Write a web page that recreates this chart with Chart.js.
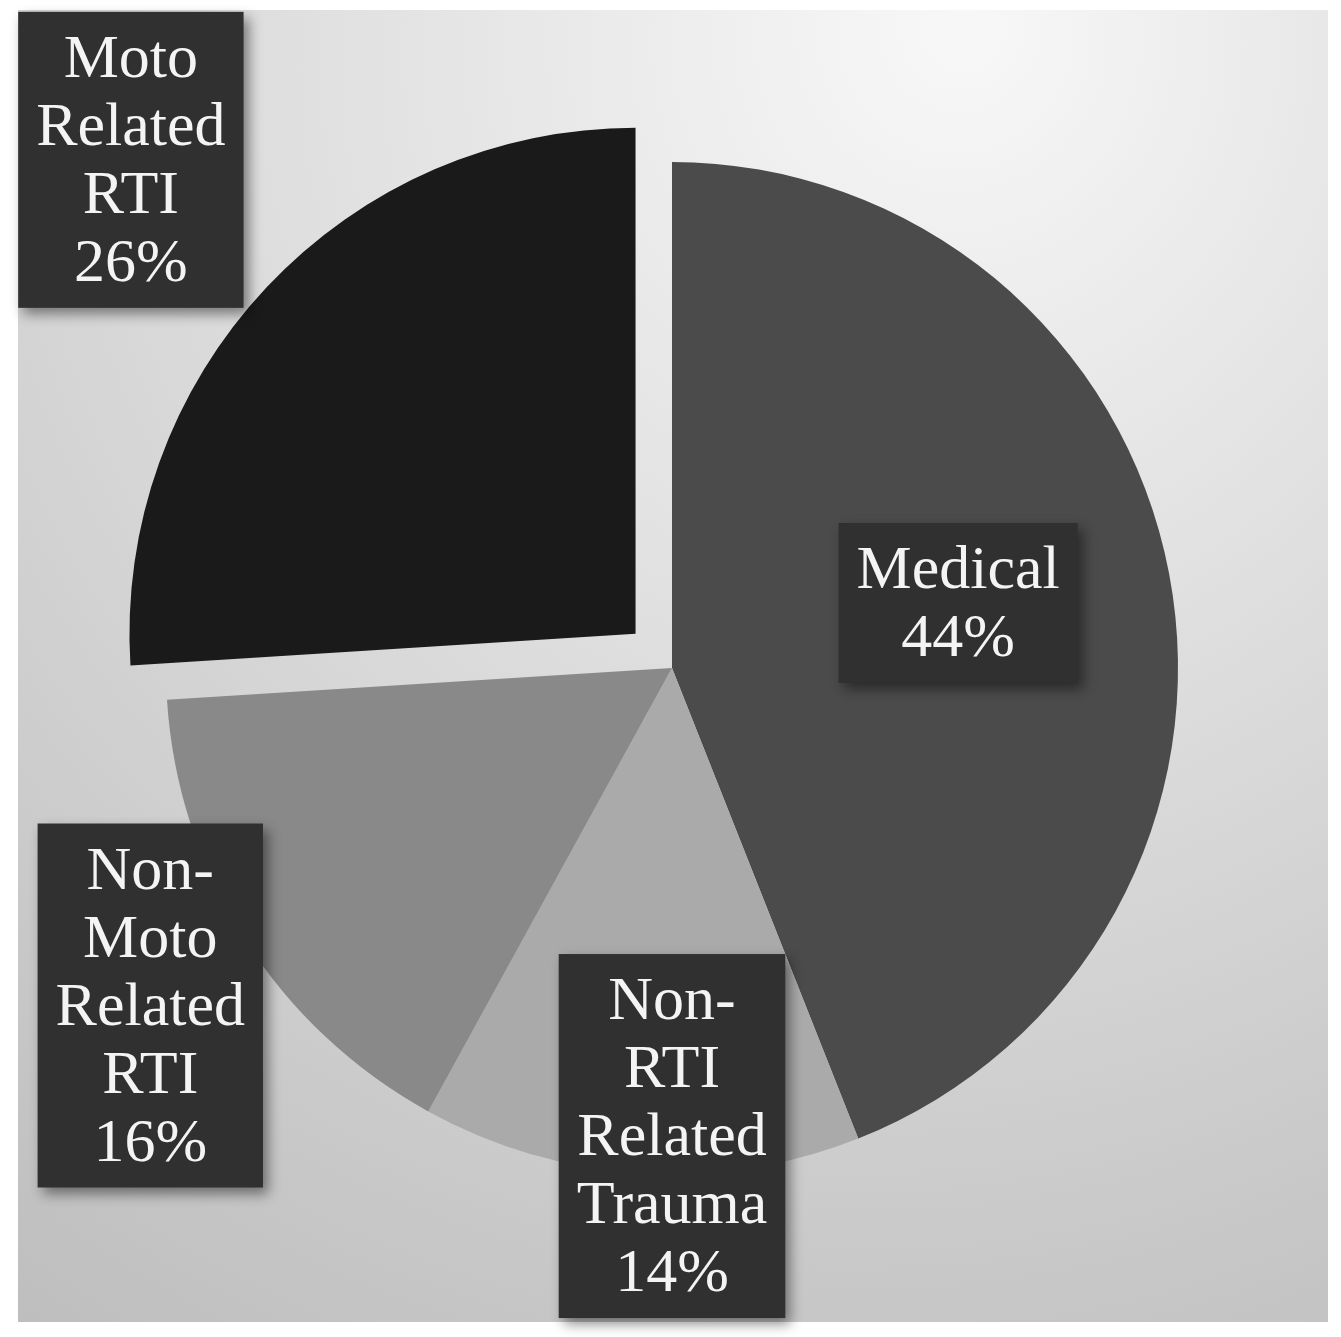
<!DOCTYPE html>
<html>
<head>
<meta charset="utf-8">
<title>Pie chart</title>
<script src="https://cdn.jsdelivr.net/npm/chart.js@4.4.0/dist/chart.umd.min.js"></script>
<style>
  html, body { margin: 0; padding: 0; background: #ffffff; }
  #wrap { width: 1341px; height: 1337px; position: relative; }
</style>
</head>
<body>
<div id="wrap"><canvas id="grafico-pizza"></canvas></div>
<script>
// categorias (com quebras de linha como no original) e valores em %
const categorias = [
  ['Medical'],
  ['Non-', 'RTI', 'Related', 'Trauma'],
  ['Non-', 'Moto', 'Related', 'RTI'],
  ['Moto', 'Related', 'RTI']
];
const valores = [44, 14, 16, 26];
const cores = ['#4b4b4b', '#aaaaaa', '#898989', '#1a1a1a'];

// onde cada rótulo fica: fração do raio e ajuste de ângulo (graus)
const rotuloRaio = [0.58, 0.925, 1.228, 1.467];
const rotuloAjuste = [-2, -3.6, -0.5, 0];

// fundo cinza com degradê
const fundoPlugin = {
  id: 'fundo',
  beforeDraw(chart) {
    const ctx = chart.ctx;
    const w = chart.width, h = chart.height;
    ctx.save();
    ctx.fillStyle = '#ffffff';
    ctx.fillRect(0, 0, w, h);
    const g = ctx.createRadialGradient(w * 0.72, h * 0.02, 20, w * 0.6, h * 0.1, h * 1.25);
    g.addColorStop(0, '#f7f7f7');
    g.addColorStop(0.35, '#e0e0e0');
    g.addColorStop(0.7, '#c8c8c8');
    g.addColorStop(1, '#b6b6b6');
    ctx.fillStyle = g;
    ctx.fillRect(18, 10, w - 31, h - 25);
    ctx.restore();
  }
};

// caixas escuras com o texto de cada fatia
const rotulosPlugin = {
  id: 'rotulos',
  afterDatasetsDraw(chart) {
    const ctx = chart.ctx;
    const meta = chart.getDatasetMeta(0);
    const fonte = '62px "Liberation Serif", "Times New Roman", serif';
    const alturaLinha = 68;
    ctx.save();
    ctx.font = fonte;
    meta.data.forEach((arc, i) => {
      const p = arc.getProps(['x', 'y', 'startAngle', 'endAngle', 'outerRadius'], true);
      const meio = (p.startAngle + p.endAngle) / 2 + rotuloAjuste[i] * Math.PI / 180;
      const r = p.outerRadius * rotuloRaio[i];
      const cx = p.x + Math.cos(meio) * r;
      const cy = p.y + Math.sin(meio) * r;
      const linhas = categorias[i].slice();
      linhas.push(valores[i] + '%');
      let largura = 0;
      linhas.forEach(l => { largura = Math.max(largura, ctx.measureText(l).width); });
      const bw = largura + 36;
      const bh = linhas.length * alturaLinha + 24;
      ctx.shadowColor = 'rgba(0,0,0,0.45)';
      ctx.shadowBlur = 12;
      ctx.shadowOffsetX = 5;
      ctx.shadowOffsetY = 6;
      ctx.fillStyle = '#303030';
      ctx.fillRect(cx - bw / 2, cy - bh / 2, bw, bh);
      ctx.shadowColor = 'transparent';
      ctx.fillStyle = '#f4f4f4';
      ctx.textAlign = 'center';
      ctx.textBaseline = 'middle';
      linhas.forEach((l, k) => {
        ctx.fillText(l, cx, cy - bh / 2 + 12 + alturaLinha * (k + 0.5) + 3);
      });
    });
    ctx.restore();
  }
};

// no Chart.js v4 o deslocamento desenhado é offset / 4
new Chart(document.getElementById('grafico-pizza').getContext('2d'), {
  type: 'pie',
  data: {
    labels: categorias,
    datasets: [{
      data: valores,
      backgroundColor: cores,
      borderWidth: 0,
      offset: [0, 0, 0, 200]
    }]
  },
  options: {
    responsive: true,
    maintainAspectRatio: false,
    animation: false,
    radius: 506,
    layout: { padding: { left: 3, bottom: 1 } },
    plugins: {
      legend: { display: false },
      tooltip: { enabled: false }
    }
  },
  plugins: [fundoPlugin, rotulosPlugin]
});
</script>
</body>
</html>
